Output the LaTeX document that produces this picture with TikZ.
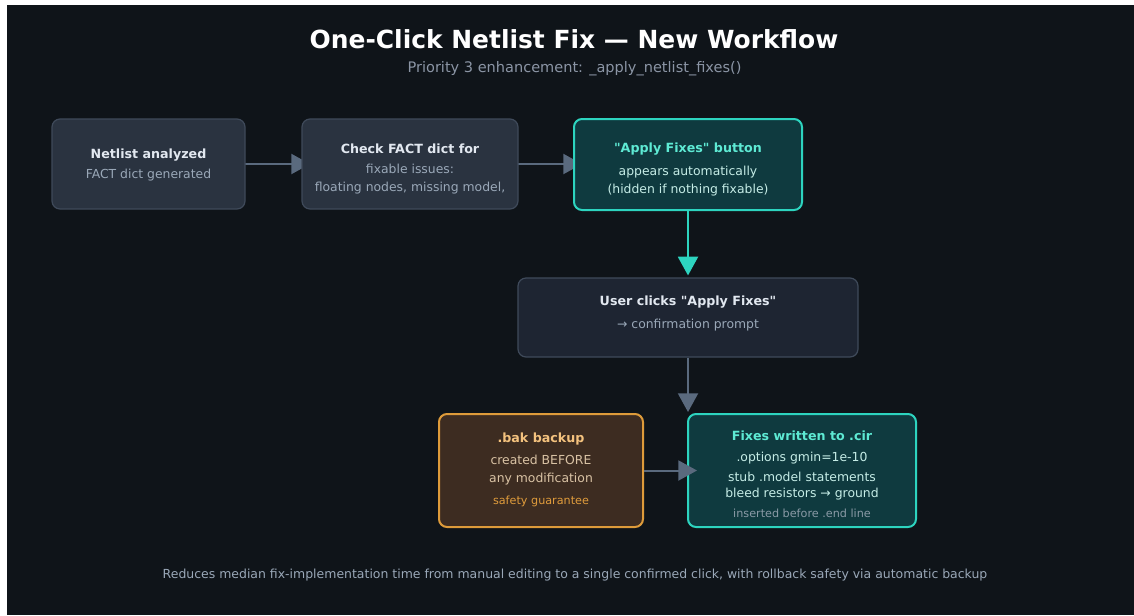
\documentclass[tikz,border=0pt]{standalone}
\usepackage{fontspec}
\setmainfont{DejaVu Sans}[Ligatures=TeXOff]
\usetikzlibrary{arrows.meta}

\definecolor{canvas}{HTML}{0F1419}
\definecolor{slatefill}{HTML}{2A3340}
\definecolor{slatedark}{HTML}{1E2532}
\definecolor{slateedge}{HTML}{3F4A5A}
\definecolor{slatehead}{HTML}{E2E8F0}
\definecolor{slatetext}{HTML}{9AA8B8}
\definecolor{tealfill}{HTML}{0F3A3F}
\definecolor{tealedge}{HTML}{2DD4BF}
\definecolor{tealhead}{HTML}{5EEAD4}
\definecolor{tealtext}{HTML}{C5ECE6}
\definecolor{tealnote}{HTML}{8A9AA6}
\definecolor{ambfill}{HTML}{3D2C21}
\definecolor{ambedge}{HTML}{DE9B3A}
\definecolor{ambhead}{HTML}{F4C27E}
\definecolor{ambtext}{HTML}{D9C2A4}
\definecolor{ambnote}{HTML}{E09C3C}
\definecolor{wire}{HTML}{5A6A7E}
\definecolor{subtle}{HTML}{8B95A5}

\tikzset{
  card/.style={rectangle, rounded corners=6pt, inner sep=0pt},
  slatecard/.style={card, fill=slatefill, draw=slateedge, line width=0.9pt},
  darkcard/.style={card, fill=slatedark, draw=slateedge, line width=0.9pt},
  tealcard/.style={card, fill=tealfill, draw=tealedge, line width=1.5pt},
  ambcard/.style={card, fill=ambfill, draw=ambedge, line width=1.5pt},
  head/.style={font=\fontsize{9.5pt}{11pt}\selectfont\bfseries, inner sep=0pt},
  body/.style={font=\fontsize{9.3pt}{11pt}\selectfont, inner sep=0pt},
  note/.style={font=\fontsize{8.4pt}{10pt}\selectfont, inner sep=0pt},
  flow/.style={line width=1.5pt, draw=wire, -{Triangle[length=14pt, width=15pt]}},
  tealflow/.style={flow, draw=tealedge},
}

\begin{document}
\begin{tikzpicture}[x=0.75pt, y=-0.75pt]
  % page and dark canvas
  \fill[white] (0,0) rectangle (1134,615);
  \fill[canvas] (7,5) rectangle (1134,615);
  \useasboundingbox (0,0) rectangle (1134,615);

  % heading
  \node[font=\fontsize{18.7pt}{21pt}\selectfont\bfseries, text=white, inner sep=0pt] (title) at (574,39) {One-Click Netlist Fix — New Workflow};
  \node[font=\fontsize{10.9pt}{12pt}\selectfont, text=subtle, inner sep=0pt] (subtitle) at (574.5,68.5) {Priority 3 enhancement: \_apply\_netlist\_fixes()};

  % anchor points of the top row, so its arrows can sit under the cards
  \coordinate (analyzedE) at (245,164);
  \coordinate (checkW) at (302,164);
  \coordinate (checkE) at (518,164);
  \coordinate (buttonW) at (574,164);
  \draw[flow, shorten >=-6pt] (analyzedE) -- (checkW);
  \draw[flow, shorten >=-6pt] (checkE) -- (buttonW);

  % cards
  \node[slatecard, minimum width=193*0.75pt, minimum height=90*0.75pt] (analyzed) at (148.5,164) {};
  \node[slatecard, minimum width=216*0.75pt, minimum height=90*0.75pt] (check) at (410,164) {};
  \node[tealcard, minimum width=228*0.75pt, minimum height=91*0.75pt] (button) at (688,164.5) {};
  \node[darkcard, minimum width=340*0.75pt, minimum height=79*0.75pt] (clicks) at (688,317.5) {};
  \node[ambcard, minimum width=204*0.75pt, minimum height=113*0.75pt] (backup) at (541,470.5) {};
  \node[tealcard, minimum width=228*0.75pt, minimum height=113*0.75pt] (written) at (802,470.5) {};

  % card texts
  \node[head, text=slatehead] (analyzedA) at (148.5,155) {Netlist analyzed};
  \node[body, text=slatetext] (analyzedB) at (148.5,175) {FACT dict generated};

  \node[head, text=slatehead] (checkA) at (410,149) {Check FACT dict for};
  \node[body, text=slatetext] (checkB) at (410,169) {fixable issues:};
  \node[body, text=slatetext] (checkC) at (410,188) {floating nodes, missing model,};

  \node[head, text=tealhead] (buttonA) at (688,149) {"Apply Fixes" button};
  \node[body, text=tealtext] (buttonB) at (688,172) {appears automatically};
  \node[body, text=tealtext] (buttonC) at (688,190) {(hidden if nothing fixable)};

  \node[head, text=slatehead] (clicksA) at (688,302) {User clicks "Apply Fixes"};
  \node[body, text=slatetext] (clicksB) at (688,325.5) {→ confirmation prompt};

  \node[head, text=ambhead] (backupA) at (541,439) {.bak backup};
  \node[body, text=ambtext] (backupB) at (541,459.5) {created BEFORE};
  \node[body, text=ambtext] (backupC) at (541,479) {any modification};
  \node[note, text=ambnote] (backupD) at (541,501.5) {safety guarantee};

  \node[head, text=tealhead] (writtenA) at (802,436) {Fixes written to .cir};
  \node[body, text=tealtext] (writtenB) at (802,458.5) {.options gmin=1e-10};
  \node[body, text=tealtext] (writtenC) at (802,476.5) {stub .model statements};
  \node[body, text=tealtext] (writtenD) at (802,494.5) {bleed resistors → ground};
  \node[note, text=tealnote] (writtenE) at (802,513) {inserted before .end line};

  % remaining connectors
  \draw[tealflow, shorten >=1.5pt] (button.south) -- (clicks.north);
  \draw[flow, shorten >=0.75pt] (clicks.south) -- (clicks.south |- written.north);
  \draw[flow, shorten >=-7.5pt] (backup.east) -- (written.west);

  % footer
  \node[font=\fontsize{9.35pt}{11pt}\selectfont, text=slatetext, inner sep=0pt] (footer) at (575,575.5)
    {Reduces median fix-implementation time from manual editing to a single confirmed click, with rollback safety via automatic backup};
\end{tikzpicture}
\end{document}
